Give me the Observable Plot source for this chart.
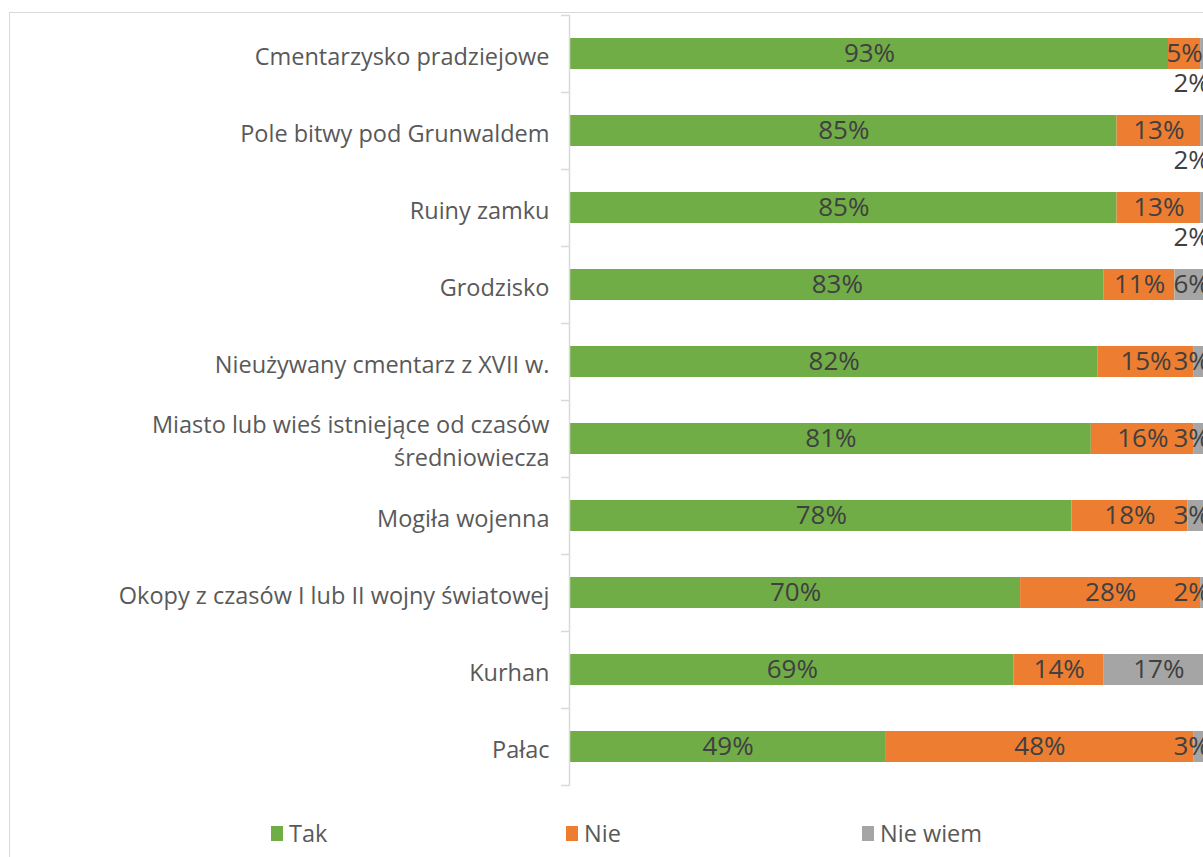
<!DOCTYPE html>
<html>
<head>
<meta charset="utf-8">
<script src="https://cdn.jsdelivr.net/npm/d3@7"></script>
<script src="https://cdn.jsdelivr.net/npm/@observablehq/plot@0.6"></script>
<style>
  html, body { margin: 0; padding: 0; background: #fff; }
  body { width: 1203px; height: 857px; overflow: hidden; position: relative; font-family: "Open Sans", sans-serif; }
  #frame { position: absolute; left: 9px; top: 12px; width: 1300px; height: 900px; border: 1px solid #d9d9d9; box-sizing: border-box; }
  #chart { position: absolute; left: 0; top: 0; }
  .lg { position: absolute; top: 818px; display: flex; align-items: center; font-size: 23.5px; color: #595959; line-height: 30px; }
  .lg span.sw { display: inline-block; width: 12px; height: 15px; margin-right: 6px; }
</style>
</head>
<body>
<div id="frame"></div>
<div id="chart"></div>
<div id="legend"></div>
<script>
const categories = [
  "Cmentarzysko pradziejowe",
  "Pole bitwy pod Grunwaldem",
  "Ruiny zamku",
  "Grodzisko",
  "Nieużywany cmentarz z XVII w.",
  "Miasto lub wieś istniejące od czasów\nśredniowiecza",
  "Mogiła wojenna",
  "Okopy z czasów I lub II wojny światowej",
  "Kurhan",
  "Pałac"
];
const tak     = [93, 85, 85, 83, 82, 81, 78, 70, 69, 49];
const nie     = [5, 13, 13, 11, 15, 16, 18, 28, 14, 48];
const nieWiem = [2, 2, 2, 6, 3, 3, 3, 2, 17, 3];
const answers = ["Tak", "Nie", "Nie wiem"];
const colors  = ["#70AD47", "#ED7D31", "#A5A5A5"];

const series = [tak, nie, nieWiem];
const segs = [];
categories.forEach((cat, i) => {
  let acc = 0;
  answers.forEach((a, k) => {
    const v = series[k][i];
    segs.push({cat, answer: a, value: v, x1: acc, x2: acc + v});
    acc += v;
  });
});

// label placement (Excel-like: keep labels inside plot, drop overlapping ones below)
const MAXC = 96.6;
const inline = [], below = [];
categories.forEach((cat, i) => {
  const rowSegs = segs.filter(s => s.cat === cat);
  const centers = rowSegs.map(s => Math.min((s.x1 + s.x2) / 2, MAXC));
  rowSegs.forEach((s, k) => {
    const lab = {cat, x: centers[k], text: s.value + "%"};
    if (k === 2 && centers[2] - centers[1] < 6.7) below.push(lab);
    else inline.push(lab);
  });
});

function boundaryTicks(index, scales, values, dimensions) {
  const y = scales.y;
  const g = d3.create("svg:g");
  const bw = typeof y.bandwidth === "function" ? y.bandwidth() : 30.8;
  const step = y(categories[1]) - y(categories[0]);
  const gap = (step - bw) / 2;
  const ys = categories.map(c => y(c) - gap);
  ys.push(y(categories[categories.length - 1]) + bw + gap);
  const x0 = scales.x(0);
  ys.forEach(v => {
    g.append("line")
      .attr("x1", x0 - 9).attr("x2", x0)
      .attr("y1", Math.round(v) + 0.5).attr("y2", Math.round(v) + 0.5)
      .attr("stroke", "#d9d9d9").attr("stroke-width", 1.5);
  });
  return g.node();
}

const chart = Plot.plot({
  width: 1203,
  height: 800,
  marginTop: 15,
  marginBottom: 15,
  marginLeft: 570,
  marginRight: 0,
  x: {domain: [0, 100], range: [570, 1213], axis: null},
  y: {domain: categories, paddingInner: 0.6, paddingOuter: 0.3, axis: null, label: null},
  color: {domain: answers, range: colors},
  style: {fontFamily: "Open Sans, sans-serif", background: "transparent", overflow: "visible"},
  marks: [
    Plot.barX(segs, {y: "cat", x1: "x1", x2: "x2", fill: "answer"}),
    Plot.ruleX([0], {stroke: "#d9d9d9", strokeWidth: 1.5, dx: -1}),
    boundaryTicks,
    Plot.axisY({tickSize: 0, tickPadding: 21, fontSize: 23.5, fill: "#595959", lineHeight: 1.4, anchor: "left", label: null}),
    Plot.text(inline, {x: "x", y: "cat", text: "text", fontSize: 26, fill: "#404040"}),
    Plot.text(below, {x: "x", y: "cat", text: "text", fontSize: 26, fill: "#404040", dy: 30})
  ]
});
document.getElementById("chart").appendChild(chart);

const legendX = [271, 566, 862];
const legend = document.getElementById("legend");
answers.forEach((a, k) => {
  const d = document.createElement("div");
  d.className = "lg";
  d.style.left = legendX[k] + "px";
  d.innerHTML = `<span class="sw" style="background:${colors[k]}"></span>${a}`;
  legend.appendChild(d);
});
</script>
</body>
</html>
